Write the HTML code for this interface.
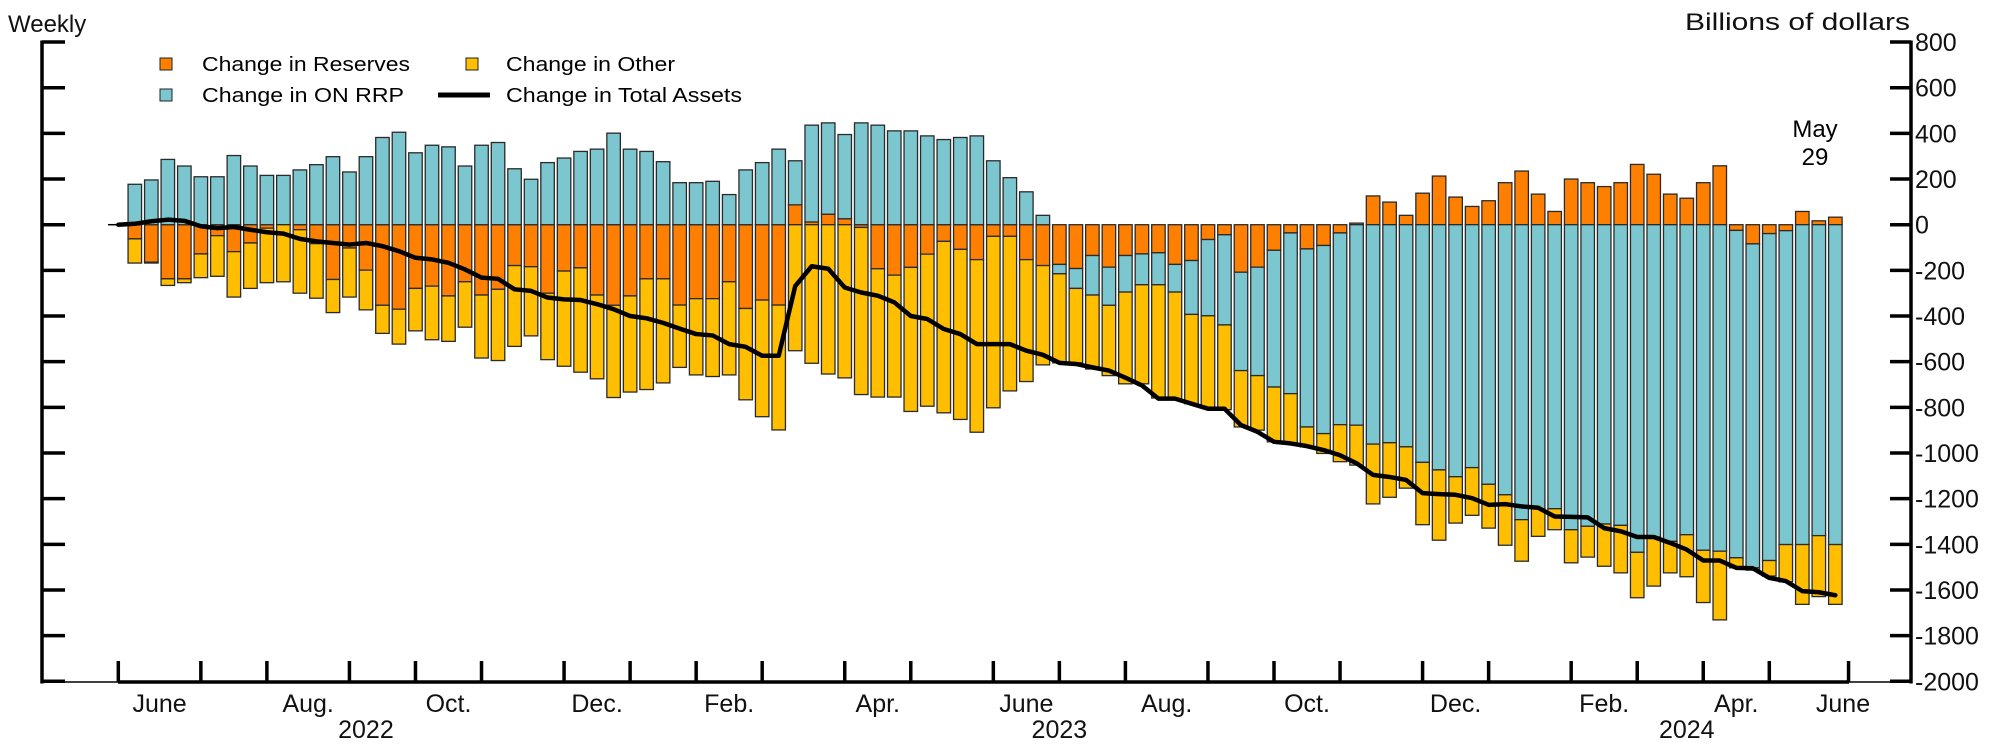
<!DOCTYPE html>
<html><head><meta charset="utf-8"><style>
html,body{margin:0;padding:0;background:#fff;}
svg{display:block;font-family:"Liberation Sans",Arial,sans-serif;}
</style></head><body>
<svg id="chart" width="2009" height="745" viewBox="0 0 2009 745">
<text x="8" y="32" font-size="24" fill="#111">Weekly</text>
<text x="1910" y="30" font-size="24" fill="#111" text-anchor="end" textLength="225" lengthAdjust="spacingAndGlyphs">Billions of dollars</text>
<g>
 <g><rect x="160" y="58" width="12" height="12" fill="#FF8000" stroke="#222" stroke-width="1"/><text x="202" y="71" font-size="20" textLength="208" lengthAdjust="spacingAndGlyphs">Change in Reserves</text></g>
 <g><rect x="466" y="58" width="12" height="12" fill="#FFBF00" stroke="#222" stroke-width="1"/><text x="506" y="71" font-size="20" textLength="169" lengthAdjust="spacingAndGlyphs">Change in Other</text></g>
 <g><rect x="160" y="89" width="12" height="12" fill="#7CC7CF" stroke="#222" stroke-width="1"/><text x="202" y="102" font-size="20" textLength="202" lengthAdjust="spacingAndGlyphs">Change in ON RRP</text></g>
 <g><line x1="438" y1="95" x2="490" y2="95" stroke="#000" stroke-width="5"/><text x="506" y="102" font-size="20" textLength="236" lengthAdjust="spacingAndGlyphs">Change in Total Assets</text></g>
</g>
<text x="1815" y="137" font-size="24" text-anchor="middle">May</text>
<text x="1815" y="165" font-size="24" text-anchor="middle">29</text>
<g id="bars"></g>
<g id="axes"></g>
<g id="linegrp"></g>
</svg>
<script>
const reserves = [-62,-164,-237,-237,-128,-48,-118,-80,-15,0,-22,-83,-240,-102,-199,-353,-370,-279,-269,-312,-250,-308,-283,-179,-184,-300,-203,-189,-308,-353,-312,-237,-237,-352,-324,-324,-250,-367,-330,-352,87,12,46,26,-12,-193,-221,-187,-129,-73,-108,-153,-51,-51,-153,-179,-174,-192,-135,-186,-135,-128,-123,-174,-157,-65,-44,-208,-186,-112,-36,-106,-91,-36,7,126,99,41,138,213,121,80,105,184,235,134,58,200,184,167,184,264,221,134,116,184,258,-25,-84,-39,-26,58,17,33];
const onRrp = [177,196,286,257,210,210,303,257,216,216,240,263,298,231,298,382,405,315,348,341,257,348,360,245,199,272,292,321,331,401,331,321,276,184,184,190,132,240,272,331,193,424,400,369,446,436,411,411,389,373,382,389,280,206,144,41,-41,-87,-173,-167,-160,-135,-140,-121,-236,-334,-395,-431,-475,-599,-704,-780,-824,-840,-878,-961,-955,-973,-1041,-1074,-1104,-1064,-1137,-1183,-1292,-1244,-1244,-1336,-1321,-1311,-1317,-1435,-1368,-1387,-1358,-1426,-1430,-1434,-1419,-1432,-1375,-1401,-1362,-1401];
const other = [-106,-4,-29,-17,-104,-178,-199,-199,-239,-250,-278,-239,-145,-215,-174,-123,-153,-186,-235,-199,-199,-276,-312,-354,-303,-291,-417,-457,-367,-404,-421,-485,-456,-273,-334,-341,-408,-400,-511,-547,-552,-607,-654,-671,-732,-562,-534,-631,-666,-751,-745,-756,-751,-677,-534,-435,-390,-326,-324,-308,-402,-434,-496,-467,-391,-400,-371,-247,-239,-240,-218,-87,-87,-162,-175,-262,-239,-181,-273,-308,-203,-209,-192,-221,-182,-121,-92,-145,-135,-185,-208,-199,-215,-138,-184,-229,-301,-44,-10,-68,-163,-262,-267,-262];
const totalAssets = [0,4,15,22,17,-7,-15,-10,-22,-33,-39,-62,-73,-80,-87,-80,-94,-116,-145,-152,-167,-196,-232,-237,-283,-290,-319,-327,-330,-348,-370,-400,-410,-430,-455,-479,-485,-523,-535,-574,-574,-269,-182,-193,-275,-297,-311,-340,-400,-413,-457,-479,-523,-523,-523,-552,-570,-605,-610,-625,-639,-670,-704,-762,-762,-784,-806,-806,-878,-907,-951,-958,-970,-987,-1010,-1045,-1096,-1105,-1118,-1176,-1180,-1183,-1198,-1227,-1224,-1234,-1240,-1278,-1280,-1282,-1329,-1343,-1368,-1368,-1394,-1423,-1471,-1471,-1503,-1505,-1547,-1561,-1605,-1610,-1623];
const yTicks = [800,600,400,200,0,-200,-400,-600,-800,-1000,-1200,-1400,-1600,-1800,-2000];
const monthNames = ["Jan.","Feb.","Mar.","Apr.","May","June","July","Aug.","Sep.","Oct.","Nov.","Dec."];
const yearLabels = ["2022","2023","2024"];
const yearIdx = [15,57,95];

const NS="http://www.w3.org/2000/svg";
function xPos(i){return 118.3+i*16.51;}
function yPos(v){return 224.7-v*0.2283;}
function mk(tag,attrs,parent){const e=document.createElementNS(NS,tag);for(const k in attrs)e.setAttribute(k,attrs[k]);parent.appendChild(e);return e;}
const bars=document.getElementById('bars'),axes=document.getElementById('axes'),lg=document.getElementById('linegrp');
const COL={res:"#FF8000",rrp:"#7CC7CF",oth:"#FFBF00"};
const BW=13.5;
for(let k=0;k<reserves.length;k++){
  const i=k+1, cx=xPos(i);
  const comps=[["res",reserves[k]],["rrp",onRrp[k]],["oth",other[k]]];
  let pos=0,neg=0;
  for(const [key,v] of comps){
    if(v===0)continue;
    let a,b;
    if(v>0){a=pos;b=pos+v;pos=b;}else{a=neg;b=neg+v;neg=b;}
    const y1=yPos(Math.max(a,b)),y2=yPos(Math.min(a,b));
    const r=mk('rect',{x:(cx-BW/2).toFixed(2),y:y1.toFixed(2),width:BW,height:Math.max(0.5,y2-y1).toFixed(2),fill:COL[key],stroke:"#2a2a2a","stroke-width":1.3},bars);
    
    
  }
}
let d="";
totalAssets.forEach((v,i)=>{d+=(i?"L":"M")+xPos(i).toFixed(2)+","+yPos(v).toFixed(2);});
const pl=mk('path',{d:d,fill:"none",stroke:"#000","stroke-width":4.5,"stroke-linejoin":"round","stroke-linecap":"round"},lg);


const la=mk('line',{x1:42,y1:40.5,x2:42,y2:683.5,stroke:"#000","stroke-width":3.5},axes);


const ra=mk('line',{x1:1911,y1:40.5,x2:1911,y2:683.5,stroke:"#000","stroke-width":3.5},axes);


const ba=mk('line',{x1:118,y1:682,x2:1849,y2:682,stroke:"#000","stroke-width":3.5},axes);


const ba2=mk('line',{x1:42,y1:682,x2:118,y2:682,stroke:"#000","stroke-width":1.5},axes);


const ba3=mk('line',{x1:1849,y1:682,x2:1911,y2:682,stroke:"#000","stroke-width":1.5},axes);


const zl=mk('line',{x1:108,y1:yPos(0),x2:118,y2:yPos(0),stroke:"#000","stroke-width":1.5},axes);


yTicks.forEach(v=>{
  const y=yPos(v);
  const t1=mk('line',{x1:42,y1:y,x2:65,y2:y,stroke:"#000","stroke-width":3.5},axes);
  
  
  const t2=mk('line',{x1:1890,y1:y,x2:1911,y2:y,stroke:"#000","stroke-width":3.5},axes);
  
  
  const tx=mk('text',{x:1915,y:y+9,"font-size":25,fill:"#111"},axes);
  tx.textContent=String(v);
  
  
});
const start=new Date(Date.UTC(2022,4,25));
function dateAt(i){return new Date(start.getTime()+i*7*86400000);}
const tickIdx=[];
for(let i=0;i<=104;i++){if(dateAt(i+1).getUTCMonth()!==dateAt(i).getUTCMonth())tickIdx.push(i);}
tickIdx.push(104.8);
tickIdx.forEach(i=>{
  const t=mk('line',{x1:xPos(i),y1:661,x2:xPos(i),y2:682,stroke:"#000","stroke-width":3.5},axes);
  
  
});
for(let j=0;j<tickIdx.length-1;j++){
  const m=dateAt(Math.floor(tickIdx[j])+1).getUTCMonth();
  if(m%2!==1)continue;
  const cx=(xPos(tickIdx[j])+xPos(tickIdx[j+1]))/2;
  const tx=mk('text',{x:cx,y:712,"font-size":25,"text-anchor":"middle",fill:"#111"},axes);
  tx.textContent=monthNames[m];
  
  
}
const lastJune=mk('text',{x:1843,y:712,"font-size":25,"text-anchor":"middle",fill:"#111"},axes);
lastJune.textContent="June";


yearLabels.forEach((yl,k)=>{
  const tx=mk('text',{x:xPos(yearIdx[k]),y:738,"font-size":25,"text-anchor":"middle",fill:"#111"},axes);
  tx.textContent=yl;
  
  
});
</script>
</body></html>
